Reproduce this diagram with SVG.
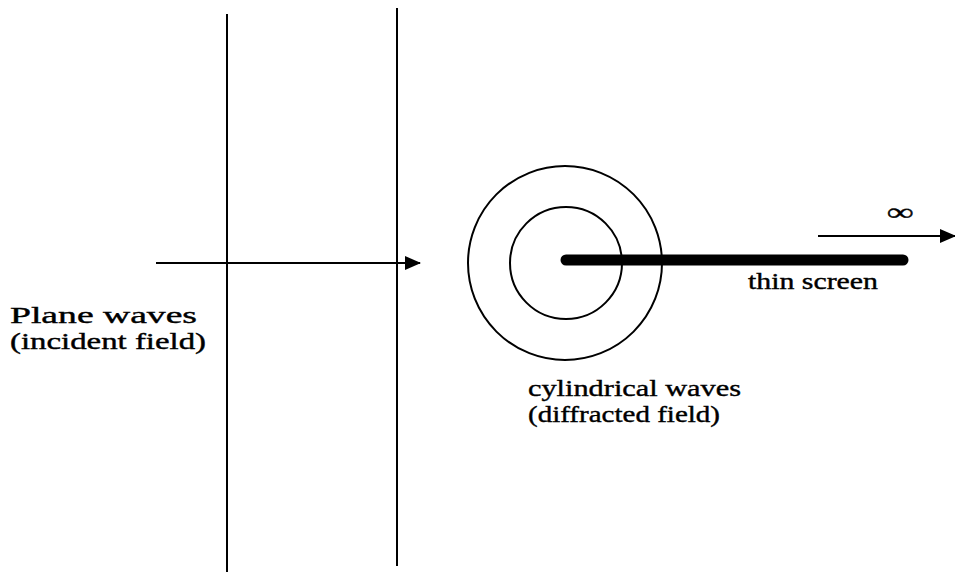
<svg xmlns="http://www.w3.org/2000/svg" width="955" height="572" viewBox="0 0 955 572">
<style>
.ln{stroke:#000;stroke-width:2;fill:none}
.t{font-family:"Liberation Serif","Times New Roman",serif;font-size:24px;fill:#000;stroke:#000;stroke-width:0.4}
</style>
<defs>
<marker id="ah2" markerWidth="16" markerHeight="14" refX="15" refY="7" orient="auto" markerUnits="userSpaceOnUse" viewBox="0 0 16 14">
<path d="M0,0 L16,7 L0,14 Z" fill="#000"/>
</marker>
</defs>
<rect width="955" height="572" fill="#fff"/>
<g id="wavefronts">
<line class="ln" x1="227" y1="14" x2="227" y2="572"/>
<line class="ln" x1="397" y1="8" x2="397" y2="566"/>
</g>
<g id="cylindrical">
<circle class="ln" cx="566" cy="263" r="56"/>
<circle class="ln" cx="565" cy="263" r="97"/>
</g>
<g id="screen">
<line x1="566" y1="260" x2="903" y2="260" stroke="#000" stroke-width="11" stroke-linecap="round"/>
</g>
<g id="connectors">
<line class="ln" x1="156" y1="263" x2="420" y2="263" marker-end="url(#ah2)"/>
<line class="ln" x1="818" y1="236" x2="955" y2="236" marker-end="url(#ah2)"/>
</g>
<g id="labels">
<text class="t" x="10" y="323" textLength="187" lengthAdjust="spacingAndGlyphs">Plane waves</text>
<text class="t" x="10" y="349" textLength="196" lengthAdjust="spacingAndGlyphs">(incident field)</text>
<text class="t" x="748" y="289" textLength="130" lengthAdjust="spacingAndGlyphs">thin screen</text>
<text class="t" x="528" y="396" textLength="213" lengthAdjust="spacingAndGlyphs">cylindrical waves</text>
<text class="t" x="528" y="422" textLength="192" lengthAdjust="spacingAndGlyphs">(diffracted field)</text>
<text class="t" x="887" y="220" textLength="26" lengthAdjust="spacingAndGlyphs" font-size="34" font-weight="bold">∞</text>
</g>
</svg>
